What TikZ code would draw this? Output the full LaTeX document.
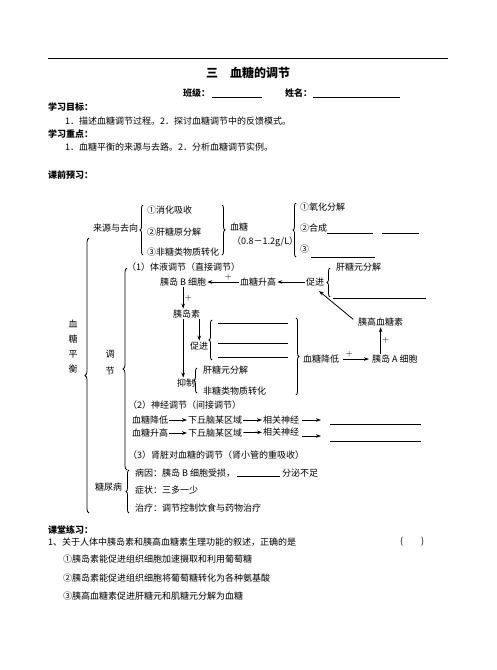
\documentclass[tikz,border=0pt]{standalone}
\usepackage{fontspec}
\newfontfamily\cjk{Noto Sans CJK SC}
\usepackage{tikz}
\usetikzlibrary{arrows.meta}
\usetikzlibrary{decorations.pathreplacing}

\begin{document}
\begin{tikzpicture}[x=1pt, y=-1pt,
    txt/.style={anchor=west, inner sep=0pt, font=\cjk\fontsize{9}{9}\selectfont},
    hd/.style={txt, font=\cjk\bfseries\fontsize{9}{9}\selectfont},
    plus/.style={inner sep=1pt, font=\fontsize{9}{9}\selectfont},
    arr/.style={-{Stealth[length=5pt, width=3.6pt]}, line width=0.8pt, shorten <=1pt, shorten >=1pt},
    brc/.style={decorate, decoration={brace, amplitude=3pt}, line width=0.8pt},
    blank/.style={line width=0.8pt}]
\useasboundingbox (0, 0) rectangle (496, 670);
% heading
\draw[line width=1pt] (48, 58) -- (448, 58);
\node[anchor=center, inner sep=0pt, font=\cjk\bfseries\fontsize{12}{12}\selectfont] (title) at (248, 73) {三　血糖的调节};
\node[hd] (cls) at (183, 93) {班级：};
\draw[blank] (212, 97) -- (262, 97);
\node[hd] (nm) at (285, 93) {姓名：};
\draw[blank] (313, 97) -- (400, 97);
\node[hd] (goal) at (48, 107) {学习目标：};
\node[txt] (goal1) at (65, 121) {1．描述血糖调节过程。2．探讨血糖调节中的反馈模式。};
\node[hd] (key) at (48, 134) {学习重点：};
\node[txt] (key1) at (65, 147) {1．血糖平衡的来源与去路。2．分析血糖调节实例。};
\node[hd] (pre) at (48, 175) {课前预习：};
% big braces
\node[anchor=center, align=center, inner sep=0pt, font=\cjk\fontsize{9}{15}\selectfont] (bal) at (73, 347) {血\\糖\\平\\衡};
\draw[brc, decoration={amplitude=4pt}] (89, 513) -- (89, 238);
\node[anchor=center, align=center, inner sep=0pt, font=\cjk\fontsize{9}{17}\selectfont] (reg) at (110, 363) {调\\节};
\draw[brc, decoration={amplitude=4pt}] (127, 470) -- (127, 268);
\node[txt] (dm) at (95, 487) {糖尿病};
\draw[brc] (129, 513) -- (129, 470);
% sources and uses
\node[txt] (src) at (93, 228) {来源与去向};
\draw[brc] (143, 255) -- (143, 205);
\node[txt] (s1) at (147, 210) {①消化吸收};
\node[txt] (s2) at (147, 232) {②肝糖原分解};
\node[txt] (s3) at (147, 252) {③非糖类物质转化};
\draw[brc] (222, 205) -- (222, 255);
\node[txt] (glu) at (230, 227) {血糖};
\node[txt] (rng) at (232, 242) {（0.8－1.2g/L）};
\draw[brc] (296, 257) -- (296, 203);
\node[txt] (d1) at (300, 207) {①氧化分解};
\node[txt] (d2) at (300, 228) {②合成};
\draw[blank] (327, 233) -- (373, 233);
\draw[blank] (382, 233) -- (419, 233);
\node[txt] (d3) at (300, 249) {③};
\draw[blank] (311, 257) -- (375, 257);
% humoral
\node[txt] (hum) at (127, 267) {（1）体液调节（直接调节）};
\node[txt] (beta) at (160, 282) {胰岛 B 细胞};
\node[txt] (up) at (240, 282) {血糖升高};
\node[txt] (cj1) at (306, 282) {促进};
\draw[brc] (330, 297) -- (330, 268);
\node[txt] (gly1) at (336, 267) {肝糖元分解};
\draw[blank] (333, 298) -- (426, 298);
\draw[arr] (up) -- node[plus, above, pos=0.35] (p1) {$+$} (beta);
\draw[arr] (cj1) -- (up);
\node[txt] (ins) at (173, 314) {胰岛素};
\draw[arr] (beta.south) -- (beta.south |- ins.north) node[plus, midway, right] (p2) {$+$};
\node[txt] (cj2) at (190, 346) {促进};
\draw[arr] (cj2.north |- ins.south) -- (cj2.north);
\draw[brc] (212, 360) -- (212, 320);
\draw[blank] (218, 323) -- (288, 323);
\draw[blank] (218, 343) -- (288, 343);
\draw[blank] (218, 357) -- (288, 357);
\node[txt] (yz) at (177, 383) {抑制};
\draw[arr] (beta.south |- ins.south) -- (beta.south |- yz.north);
\draw[brc] (197, 393) -- (197, 368);
\node[txt] (gly2) at (203, 370) {肝糖元分解};
\node[txt] (ncv) at (203, 391) {非糖类物质转化};
\draw[brc] (296, 318) -- (296, 395);
\node[txt] (down) at (303, 359) {血糖降低};
\node[txt] (alpha) at (372, 359) {胰岛 A 细胞};
\draw[arr, shorten <=4pt, shorten >=3pt] (down) -- node[plus, above, pos=0.3] (p3) {$+$} (alpha);
\node[txt] (ghs) at (358, 322) {胰高血糖素};
\draw[arr] (ghs.south |- alpha.north) -- (ghs.south) node[plus, midway, right] (p4) {$+$};
\draw[arr] ([xshift=-4pt, yshift=2pt]ghs.west) -- ([xshift=3pt, yshift=-4pt]cj1.south);
% neural
\node[txt] (ner) at (128, 405) {（2）神经调节（间接调节）};
\node[txt] (n1a) at (132, 420) {血糖降低};
\node[txt] (n1b) at (188, 420) {下丘脑某区域};
\node[txt] (n1c) at (263, 420) {相关神经};
\coordinate (e1) at (322, 420);
\draw[arr] (n1a) -- (n1b);
\draw[arr] (n1b) -- (n1c);
\draw[arr, shorten <=3pt] (n1c) -- (e1);
\draw[blank] (330, 424) -- (421, 424);
\node[txt] (n2a) at (132, 433) {血糖升高};
\node[txt] (n2b) at (188, 433) {下丘脑某区域};
\node[txt] (n2c) at (263, 432) {相关神经};
\coordinate (e2) at (322, 436);
\draw[arr] (n2a) -- (n2b);
\draw[arr] (n2b) -- (n2c);
\draw[arr, shorten <=3pt] (n2c.east |- e2) -- (e2);
\draw[blank] (330, 441) -- (421, 441);
\node[txt] (kid) at (128, 455) {（3）肾脏对血糖的调节（肾小管的重吸收）};
% diabetes
\node[txt] (c1) at (135, 473) {病因：胰岛 B 细胞受损，};
\draw[blank] (237, 476) -- (280, 476);
\node[txt] (c1b) at (282, 473) {分泌不足};
\node[txt] (c2) at (135, 490) {症状：三多一少};
\node[txt] (c3) at (135, 508) {治疗：调节控制饮食与药物治疗};
% exercise
\node[hd] (prac) at (48, 530) {课堂练习：};
\node[txt] (q1) at (48, 542) {1、关于人体中胰岛素和胰高血糖素生理功能的叙述，正确的是};
\node[txt] (ans) at (400, 542) {(\hspace{18pt})};
\node[txt] (o1) at (63, 559) {①胰岛素能促进组织细胞加速摄取和利用葡萄糖};
\node[txt] (o2) at (63, 578) {②胰岛素能促进组织细胞将葡萄糖转化为各种氨基酸};
\node[txt] (o3) at (63, 596) {③胰高血糖素促进肝糖元和肌糖元分解为血糖};
\end{tikzpicture}
\end{document}
